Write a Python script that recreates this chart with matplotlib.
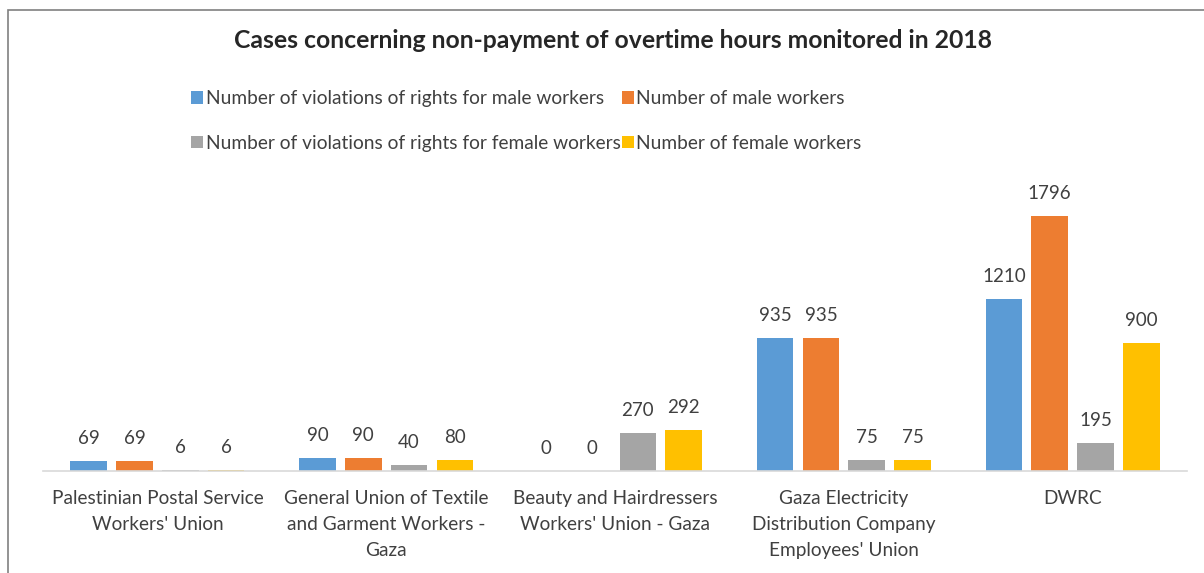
import matplotlib
matplotlib.use("Agg")
import matplotlib.pyplot as plt
import numpy as np
from matplotlib.patches import Rectangle

categories = [
    "Palestinian Postal Service\nWorkers' Union",
    "General Union of Textile\nand Garment Workers -\nGaza",
    "Beauty and Hairdressers\nWorkers' Union - Gaza",
    "Gaza Electricity\nDistribution Company\nEmployees' Union",
    "DWRC",
]
series_names = [
    "Number of violations of rights for male workers",
    "Number of male workers",
    "Number of violations of rights for female workers",
    "Number of female workers",
]
violations_male = [69, 90, 0, 935, 1210]
male_workers = [69, 90, 0, 935, 1796]
violations_female = [6, 40, 270, 75, 195]
female_workers = [6, 80, 292, 75, 900]
series_values = [violations_male, male_workers, violations_female, female_workers]
colors = ["#5B9BD5", "#ED7D31", "#A5A5A5", "#FFC000"]

plt.rcParams['font.family'] = ['Lato', 'DejaVu Sans']
W, H = 1204, 573
fig = plt.figure(figsize=(W / 100, H / 100), dpi=100)
ax = fig.add_axes([43 / W, (H - 471) / H, (1187 - 43) / W, (471 - 187) / H])

x = np.arange(len(categories))
step = 0.2
bw = 0.16
handles = []
for i, (vals, c, name) in enumerate(zip(series_values, colors, series_names)):
    pos = x + (i - 1.5) * step
    b = ax.bar(pos, vals, width=bw, color=c, label=name, zorder=2)
    handles.append(b)
    for p, v in zip(pos, vals):
        ax.annotate(f"{v}", (p, v), xytext=(0, 10), textcoords="offset points",
                    ha="center", va="bottom", fontsize=13.5, color="#404040")

ax.set_xlim(-0.5, len(categories) - 0.5)
ax.set_ylim(0, 2000)
ax.set_xticks(x)
ax.set_xticklabels(categories, fontsize=13.7, color="#404040", linespacing=1.66)
ax.tick_params(axis="x", length=0, pad=13.5)
ax.set_yticks([])
for s in ["top", "right", "left"]:
    ax.spines[s].set_visible(False)
ax.spines["bottom"].set_color("#D9D9D9")
ax.spines["bottom"].set_linewidth(1.2)

fig.text(613 / W, 1 - 40 / H, "Cases concerning non-payment of overtime hours monitored in 2018",
         ha="center", va="center", fontsize=17.8, fontweight="bold", color="#262626")

order = [0, 2, 1, 3]
leg = fig.legend([handles[i] for i in order], [series_names[i] for i in order],
                 ncol=2, loc="upper left", bbox_to_anchor=(191 / W, 1 - 90 / H),
                 frameon=False, fontsize=13.8, handlelength=0.65, handleheight=0.65,
                 handletextpad=0.12, columnspacing=0.05, labelspacing=1.45,
                 borderaxespad=0, borderpad=0)
for t in leg.get_texts():
    t.set_color("#404040")

fig.add_artist(Rectangle((8 / W, -0.1), 1.2, 1.1 - 10 / H, transform=fig.transFigure,
                         fill=False, edgecolor="#808080", linewidth=1.2, clip_on=False))

fig.savefig("out.png", dpi=100)
